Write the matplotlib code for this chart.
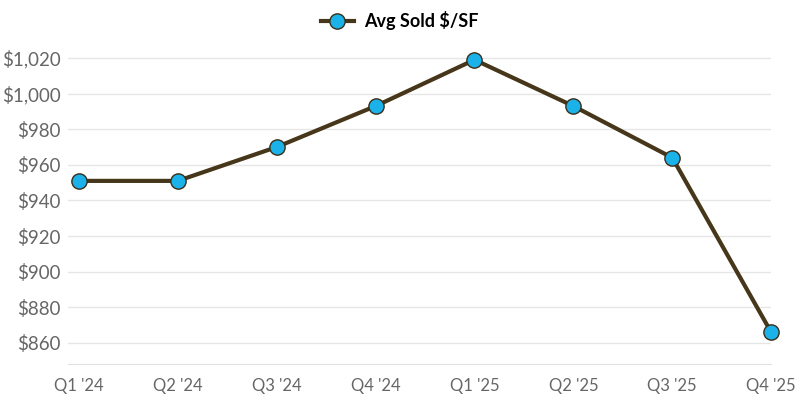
import matplotlib
matplotlib.use("Agg")
import matplotlib.pyplot as plt
from matplotlib.ticker import FuncFormatter

categories = ["Q1 '24", "Q2 '24", "Q3 '24", "Q4 '24", "Q1 '25", "Q2 '25", "Q3 '25", "Q4 '25"]
avg_sold_psf = [951, 951, 970, 993, 1019, 993, 964, 866]
y_ticks = [860, 880, 900, 920, 940, 960, 980, 1000, 1020]

plt.rcParams['font.family'] = ['Lato', 'DejaVu Sans']

fig = plt.figure(figsize=(8, 4), dpi=100)
ax = fig.add_axes([0.085, 0.09, 0.879, 0.81])

x = list(range(len(categories)))
ax.plot(x, avg_sold_psf, color="#46361a", linewidth=3, marker="o", markersize=11,
        markerfacecolor="#1ab2e8", markeredgecolor="#3a2e18", markeredgewidth=1,
        label="Avg Sold $/SF", zorder=3, clip_on=False)

ax.set_xlim(-0.11, 7)
ax.set_ylim(848.2, 1030.1)
ax.set_yticks(y_ticks)
ax.yaxis.set_major_formatter(FuncFormatter(lambda v, p: f"${v:,.0f}"))
ax.set_xticks(x)
ax.set_xticklabels(categories)

ax.grid(axis="y", color="#e6e6e6", linewidth=1)
ax.set_axisbelow(True)
for s in ["top", "right", "left"]:
    ax.spines[s].set_visible(False)
ax.spines["bottom"].set_color("#e0e0e0")
ax.tick_params(axis="both", length=0, colors="#666666")
ax.tick_params(axis="y", labelsize=13.5, pad=5)
ax.tick_params(axis="x", labelsize=12, pad=10)

leg = fig.legend(loc="center", bbox_to_anchor=(0.5, 0.948), frameon=False,
                 prop={"weight": "bold", "size": 13}, handlelength=1.8, handletextpad=0.6)

fig.savefig("out.png", dpi=100)
